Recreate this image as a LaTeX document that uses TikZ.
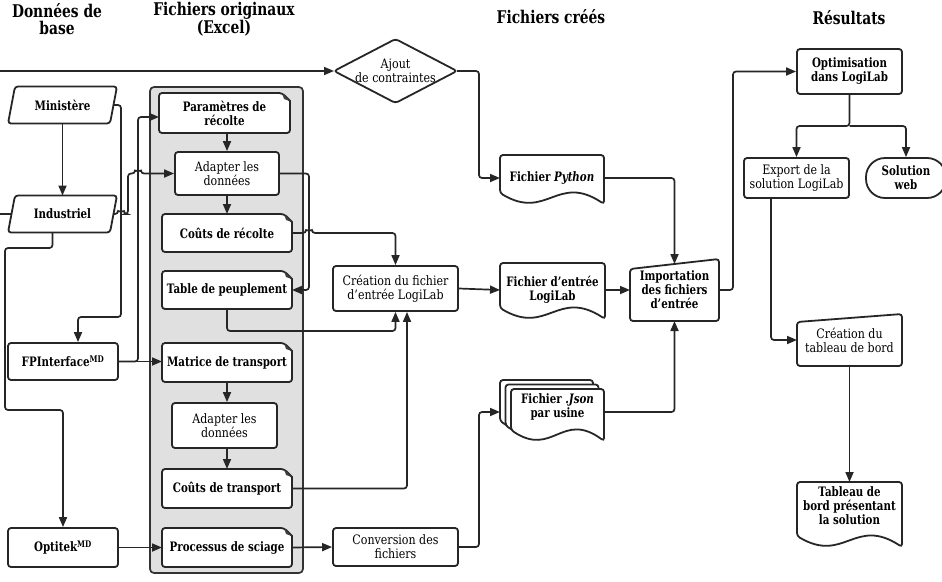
\documentclass[tikz,border=0pt]{standalone}
\usepackage{fontspec}
\setmainfont{DejaVu Serif}[FakeStretch=0.85,BoldFeatures={FakeStretch=0.79},BoldItalicFeatures={FakeStretch=0.79}]
\usetikzlibrary{arrows.meta,calc}
\pgfdeclarelayer{bglayer}
\pgfdeclarelayer{shapelayer}
\pgfsetlayers{bglayer,shapelayer,main}
\newcommand{\fb}{\fontsize{13}{14}\selectfont\bfseries}
\newcommand{\fr}{\fontsize{13}{14}\selectfont}
\newcommand{\fh}{\fontsize{17.5}{17}\selectfont\bfseries}
\newcommand{\dogbox}[1]{%
  \begin{pgfonlayer}{shapelayer}
  \draw[shp] (#1.north west) -- ([xshift=-8pt]#1.north east) [sharp corners] -- ([yshift=-8pt]#1.north east) [rounded corners=3pt] -- (#1.south east) -- (#1.south west) -- cycle;
  \fill[black!75] ([xshift=-8pt]#1.north east) -- ([yshift=-8pt]#1.north east) -- ([xshift=-6pt,yshift=-6pt]#1.north east) -- cycle;
  \end{pgfonlayer}}
\newcommand{\parashape}[1]{%
  \begin{pgfonlayer}{shapelayer}
  \draw[shp] ([xshift=-3.5pt]#1.south west) -- ([xshift=3.5pt]#1.north west) -- ([xshift=3.5pt]#1.north east) -- ([xshift=-3.5pt]#1.south east) -- cycle;
  \end{pgfonlayer}}
\newcommand{\manualshape}[2]{%
  \begin{pgfonlayer}{shapelayer}
  \draw[shp] ([yshift=-#2]#1.north west) -- (#1.north east) -- (#1.south east) -- (#1.south west) -- cycle;
  \end{pgfonlayer}}
% name, half width, top, left bottom, dx, dy
\newcommand{\docshape}[6]{%
  \begin{pgfonlayer}{shapelayer}
  \draw[shp] ([shift={(-#2+#5,-#3+#6)}]#1.center) -- ([shift={(#2+#5,-#3+#6)}]#1.center) -- ([shift={(#2+#5,#4+11+#6)}]#1.center) .. controls ([shift={(0.1*#2+#5,#4-20+#6)}]#1.center) and ([shift={(-0.1*#2+#5,#4+28+#6)}]#1.center) .. ([shift={(-#2+#5,#4+#6)}]#1.center) -- cycle;
  \end{pgfonlayer}}
\newcommand{\diamondshape}[1]{%
  \begin{pgfonlayer}{shapelayer}
  \draw[shp] (#1.west) -- (#1.north) -- (#1.east) -- (#1.south) -- cycle;
  \end{pgfonlayer}}
\begin{document}
\begin{tikzpicture}[x=1pt,y=-1pt,
  shp/.style={draw=black!85, line width=1.8pt, fill=white, rounded corners=3pt},
  ghost/.style={align=center, inner sep=0pt, outer sep=0pt},
  box/.style={draw=black!85, line width=1.8pt, fill=white, rounded corners=3pt, align=center, inner sep=0pt},
  conn/.style={draw=black!85, line width=1.7pt, rounded corners=3pt, -{Triangle[length=10pt,width=8pt]}},
  head/.style={align=center, font=\fh}]
\useasboundingbox (0,0) rectangle (942,581);

% headers
\node[head] (h1) at (57,19) {Données de\\base};
\node[head] (h2) at (224,19) {Fichiers originaux\\(Excel)};
\node[head] (h3) at (551,17) {Fichiers créés};
\node[head] (h4) at (849,18) {Résultats};

% container
\begin{pgfonlayer}{bglayer}
\draw[draw=black!80, line width=1.7pt, fill=black!12, rounded corners=4pt] (150,87) rectangle (303,573);
\end{pgfonlayer}

% left column
\node[ghost, font=\fb, minimum width=102pt, minimum height=37pt] (min) at (62.5,105) {Ministère};
\parashape{min}
\node[ghost, font=\fb, minimum width=102pt, minimum height=37pt] (ind) at (62.5,214) {Industriel};
\parashape{ind}
\node[box, font=\fb, minimum width=110pt, minimum height=37pt] (fpi) at (63,361.5) {FPInterface\textsuperscript{MD}};
\node[box, font=\fb, minimum width=110pt, minimum height=39pt] (opt) at (63,547.5) {Optitek\textsuperscript{MD}};

% excel files
\node[ghost, font=\fb, minimum width=131pt, minimum height=40pt] (par) at (224.5,113) {Paramètres de\\récolte};
\dogbox{par}
\node[box, font=\fr, minimum width=104pt, minimum height=43pt] (ad1) at (227,173.5) {Adapter les\\données};
\node[ghost, font=\fb, minimum width=130pt, minimum height=38pt] (cr) at (227,233) {Coûts de récolte};
\dogbox{cr}
\node[ghost, font=\fb, minimum width=130pt, minimum height=38pt] (tab) at (227,290) {Table de peuplement};
\dogbox{tab}
\node[ghost, font=\fb, minimum width=130pt, minimum height=39pt] (mat) at (227,362.5) {Matrice de transport};
\dogbox{mat}
\node[box, font=\fr, minimum width=105pt, minimum height=45pt] (ad2) at (224.5,425.5) {Adapter les\\données};
\node[ghost, font=\fb, minimum width=130pt, minimum height=39pt] (ct) at (227,488.5) {Coûts de transport};
\dogbox{ct}
\node[ghost, font=\fb, minimum width=130pt, minimum height=39pt] (ps) at (227,547.5) {Processus de sciage};
\dogbox{ps}

% middle
\node[ghost, font=\fr, minimum width=123pt, minimum height=64pt] (aj) at (395.5,71) {Ajout\\de contraintes};
\diamondshape{aj}
\node[box, font=\fr, minimum width=125pt, minimum height=45pt] (cf) at (395.5,288.5) {Création du fichier\\d'entrée LogiLab};
\node[box, font=\fr, minimum width=125pt, minimum height=38pt] (conv) at (395.5,547) {Conversion des\\fichiers};

% created files
\node[ghost, font=\fb, minimum width=104pt, minimum height=46pt] (py) at (552,178) {Fichier \textit{Python}};
\docshape{py}{52}{23}{15}{0}{0}
\node[ghost, font=\fb, minimum width=105pt, minimum height=54pt] (fe) at (552.5,290) {Fichier d'entrée\\LogiLab};
\docshape{fe}{52.5}{27}{18}{0}{0}
\node[ghost, font=\fb, minimum width=93pt, minimum height=36pt] (json) at (557.5,407) {Fichier \textit{.Json}\\par usine};
\docshape{json}{46.5}{18}{23}{-11}{-9}
\docshape{json}{46.5}{18}{23}{-5.5}{-4.5}
\docshape{json}{46.5}{18}{23}{0}{0}
\node[ghost, font=\fb, minimum width=89pt, minimum height=62pt] (imp) at (674.5,290) {Importation\\des fichiers\\d'entrée};
\manualshape{imp}{10pt}

% results
\node[box, font=\fb, minimum width=105pt, minimum height=45pt] (opti) at (849.5,71.5) {Optimisation\\dans LogiLab};
\node[box, font=\fr, minimum width=105pt, minimum height=40pt] (exp) at (796.5,178) {Export de la\\solution LogiLab};
\node[box, font=\fb, minimum width=80pt, minimum height=40pt, rounded corners=19pt] (web) at (906,178) {Solution\\web};
\node[ghost, font=\fr, minimum width=105pt, minimum height=52pt] (ctb) at (849.5,340) {Création du\\tableau de bord};
\manualshape{ctb}{8pt}
\node[ghost, font=\fb, minimum width=105pt, minimum height=48pt] (tdb) at (849.5,506) {Tableau de\\bord présentant\\la solution};
\docshape{tdb}{52.5}{24}{30}{0}{0}

\coordinate (split) at (849.5,126);

% connectors
\draw[conn] (ind.west) -- (-3,214) -- (-3,71) -- (aj.west);
\draw[conn] (min.south) -- (ind.north);
\draw[conn] (min.east) -- (121,105) -- (121,317) -- (78,317) -- ([xshift=15pt]fpi.north);
\draw[conn] (ind.east) -- (118,214) arc[start angle=180,end angle=360,radius=3] -- (128,214) -- (128,173.5) -- (135,173.5) arc[start angle=180,end angle=360,radius=3] -- (ad1.west);
\draw[conn] (fpi.east) -- (fpi.east -| mat.west);
\draw[conn] (fpi.east) -- (138,361.5) -- (138,117) -- ([yshift=-4pt]par.west);
\draw[conn] ([xshift=-10pt]ind.south) -- (52.5,248) -- (5,248) -- (5,410) -- (63,410) -- (opt.north);
\draw[conn] (opt.east) -- (ps.west);
\draw[conn] (par.south -| ad1.north) -- (ad1.north);
\draw[conn] (ad1.south) -- (cr.north);
\draw[conn] (ad1.east) -- (309,173.5) -- (309,290) -- (tab.east);
\draw[conn] (cr.east) -- (306,233) arc[start angle=180,end angle=360,radius=3] -- (395.5,233) -- (cf.north);
\draw[conn] (tab.south) -- (227,331) -- (395.5,331) -- (cf.south);
\draw[conn] (ct.east) -- (407,488.5) -- ([xshift=11.5pt]cf.south);
\draw[conn] (mat.south) -- (mat.south |- ad2.north);
\draw[conn] (ad2.south -| ct.north) -- (ct.north);
\draw[conn] (ps.east) -- (conv.west);
\draw[conn] (aj.east) -- (479,71) -- (479,178) -- (py.west);
\draw[conn] (conv.east) -- (479,547) -- (479,412) -- ([xshift=-11pt,yshift=-5pt]json.west);
\draw[conn] (cf.east) -- (fe.west);
\draw[conn] (fe.east) -- (imp.west);
\draw[conn] (py.east) -- (674.5,178) -- ([yshift=-5pt]imp.north);
\draw[conn] ([yshift=-5pt]json.east) -- (674.5,412) -- (imp.south);
\draw[conn] (imp.east) -- (733,290) -- (733,71.5) -- (opti.west);
\draw[conn] (opti.south) -- (split) -- (796.5,126) -- (exp.north);
\draw[conn] (split) -- (906,126) -- (web.north);
\draw[conn] ([xshift=-25.5pt]exp.south) -- (771,340) -- (ctb.west);
\draw[conn] (ctb.south) -- (tdb.north);
\end{tikzpicture}
\end{document}
